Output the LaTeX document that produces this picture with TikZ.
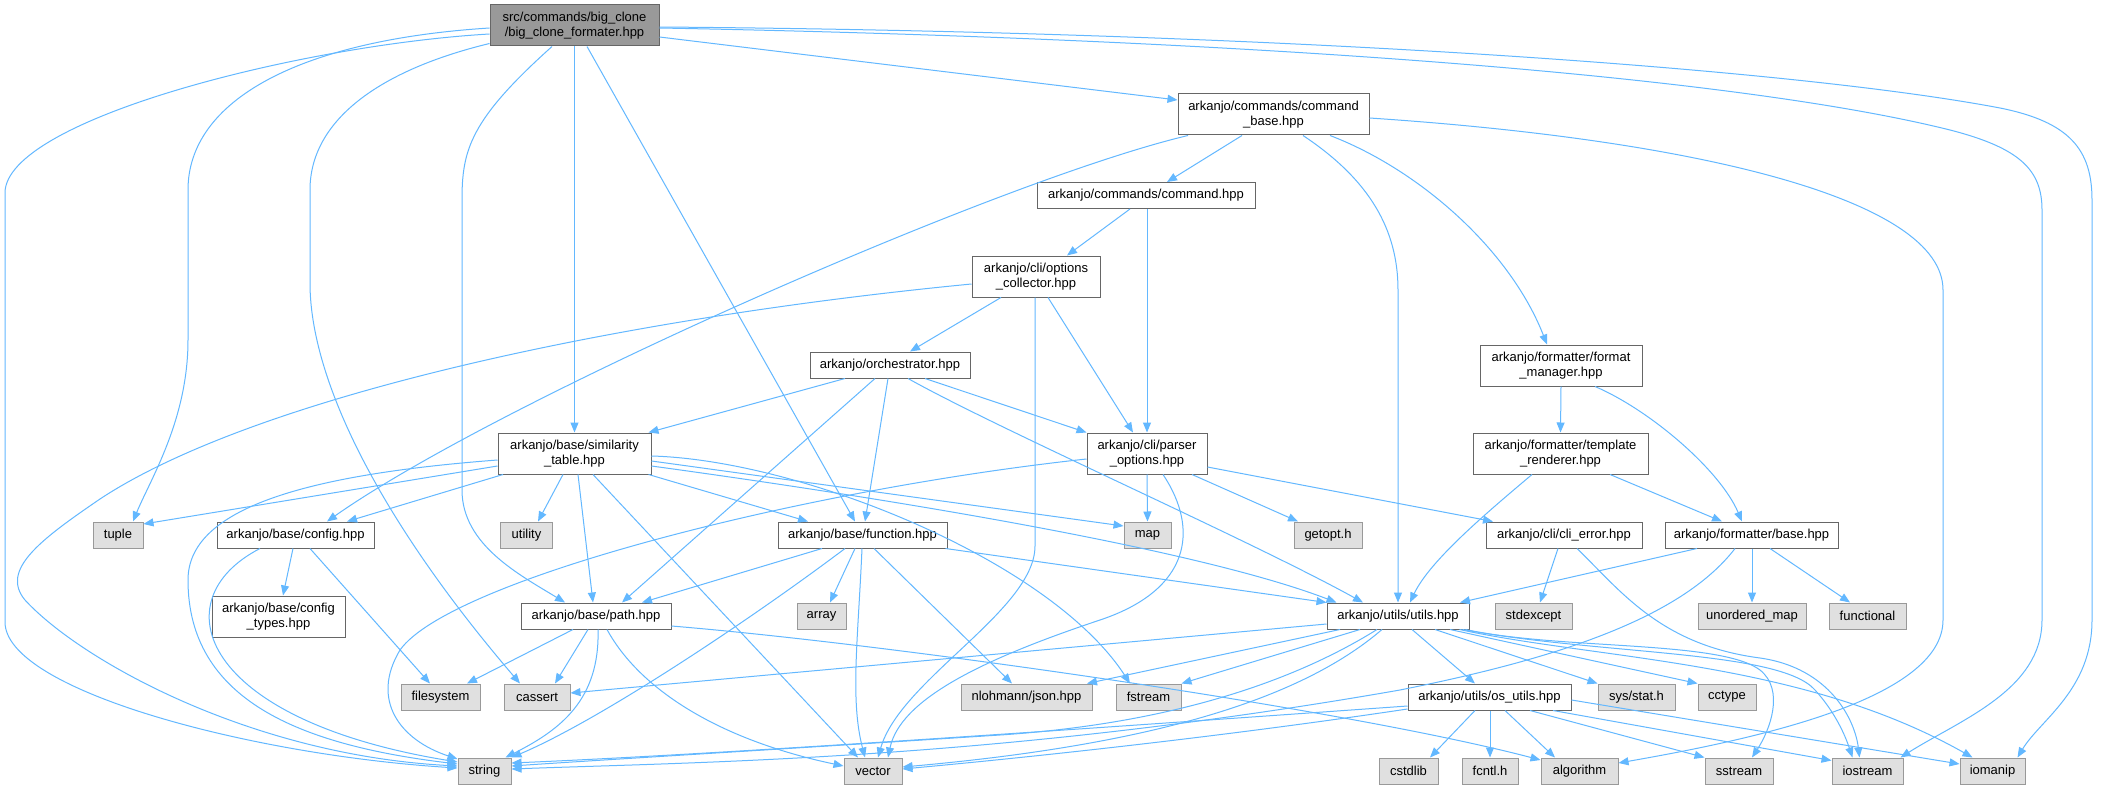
\documentclass[tikz,border=0pt]{standalone}
\usepackage{fontspec}
\setmainfont{Liberation Sans}
\usetikzlibrary{arrows.meta}
\definecolor{edgecol}{HTML}{63B8FF}
\definecolor{docborder}{HTML}{666666}
\definecolor{extborder}{HTML}{999999}
\definecolor{extfill}{HTML}{E0E0E0}
\definecolor{rootfill}{HTML}{999999}
\tikzset{
  box/.style={rectangle, inner sep=0pt, line width=1pt, minimum height=26pt, align=center, font=\fontsize{13}{15}\selectfont},
  two/.style={minimum height=41pt},
  doc/.style={box, draw=docborder, fill=white},
  ext/.style={box, draw=extborder, fill=extfill},
  rootn/.style={box, draw=docborder, fill=rootfill},
  dep/.style={draw=edgecol, line width=1pt, -{Triangle[length=10pt,width=8pt]}}
}
\begin{document}
\begin{tikzpicture}[x=1pt,y=-1pt]
\fill[white] (0,0) rectangle (2105,789);
\useasboundingbox (0,0) rectangle (2105,789);
% nodes
\node[rootn,two,minimum width=169pt] (root) at (574.5,25.5) {src/commands/big\_clone\\/big\_clone\_formater.hpp};
\node[doc,two,minimum width=191pt] (cbase) at (1273.5,114.5) {arkanjo/commands/command\\\_base.hpp};
\node[doc,minimum width=218pt] (cmd) at (1146,195.5) {arkanjo/commands/command.hpp};
\node[doc,two,minimum width=128pt] (optc) at (1036,276.5) {arkanjo/cli/options\\\_collector.hpp};
\node[doc,minimum width=160pt] (orch) at (890,365) {arkanjo/orchestrator.hpp};
\node[doc,two,minimum width=162pt] (fmgr) at (1561,365.5) {arkanjo/formatter/format\\\_manager.hpp};
\node[doc,two,minimum width=153pt] (sim) at (574.5,453.5) {arkanjo/base/similarity\\\_table.hpp};
\node[doc,two,minimum width=120pt] (popt) at (1147,453.5) {arkanjo/cli/parser\\\_options.hpp};
\node[doc,two,minimum width=175pt] (trend) at (1560.5,453.5) {arkanjo/formatter/template\\\_renderer.hpp};
\node[ext,minimum width=50pt] (tuple) at (118,535) {tuple};
\node[doc,minimum width=157pt] (config) at (295.5,535) {arkanjo/base/config.hpp};
\node[ext,minimum width=52pt] (utility) at (526.5,535) {utility};
\node[doc,minimum width=169pt] (funcn) at (862.5,535) {arkanjo/base/function.hpp};
\node[ext,minimum width=47pt] (mapn) at (1147.5,535) {map};
\node[ext,minimum width=68pt] (getopt) at (1328,535) {getopt.h};
\node[doc,minimum width=156pt] (clierr) at (1564,535) {arkanjo/cli/cli\_error.hpp};
\node[doc,minimum width=173pt] (fbase) at (1751.5,535) {arkanjo/formatter/base.hpp};
\node[doc,two,minimum width=133pt] (ctypes) at (278.5,616.5) {arkanjo/base/config\\\_types.hpp};
\node[doc,minimum width=150pt] (pathn) at (596,616) {arkanjo/base/path.hpp};
\node[ext,minimum width=49pt] (arrayn) at (821.5,616) {array};
\node[doc,minimum width=142pt] (utils) at (1398,616) {arkanjo/utils/utils.hpp};
\node[ext,minimum width=77pt] (stdexc) at (1533.5,616) {stdexcept};
\node[ext,minimum width=108pt] (umap) at (1752,616) {unordered\_map};
\node[ext,minimum width=77pt] (functional) at (1867.5,616) {functional};
\node[ext,minimum width=79pt] (fs) at (440.5,697) {filesystem};
\node[ext,minimum width=66pt] (cassert) at (537,697) {cassert};
\node[ext,minimum width=131pt] (json) at (1026.5,697) {nlohmann/json.hpp};
\node[ext,minimum width=65pt] (fstream) at (1148.5,697) {fstream};
\node[doc,minimum width=163pt] (osu) at (1489.5,697) {arkanjo/utils/os\_utils.hpp};
\node[ext,minimum width=77pt] (sysstat) at (1636.5,697) {sys/stat.h};
\node[ext,minimum width=58pt] (cctype) at (1727,697) {cctype};
\node[ext,minimum width=53pt] (strn) at (484.5,771) {string};
\node[ext,minimum width=58pt] (vector) at (873,771) {vector};
\node[ext,minimum width=59pt] (cstdlib) at (1408.5,771) {cstdlib};
\node[ext,minimum width=56pt] (fcntl) at (1490,771) {fcntl.h};
\node[ext,minimum width=77pt] (algo) at (1579.5,771) {algorithm};
\node[ext,minimum width=68pt] (sstream) at (1739,771) {sstream};
\node[ext,minimum width=71pt] (iostream) at (1867.5,771) {iostream};
\node[ext,minimum width=65pt] (iomanip) at (1992.5,771) {iomanip};
% root
\draw[dep] ([yshift=-8.5pt]root.west) .. controls (300,45) and (5,120) .. (5,193) -- (5,622) .. controls (5,690) and (250,755) .. ([yshift=3pt]strn.west);
\draw[dep] ([yshift=-2.5pt]root.west) .. controls (300,40) and (188,100) .. (188,190) -- (188,340) .. controls (188,420) and (150,480) .. ([xshift=15pt]tuple.north);
\draw[dep] ([yshift=3pt]root.south west) .. controls (380,70) and (310,120) .. (310,190) -- (310,283) .. controls (310,380) and (380,520) .. ([xshift=-17pt]cassert.north);
\draw[dep] ([xshift=-22.5pt]root.south) .. controls (470,120) and (462,150) .. (462,200) -- (462,490) .. controls (462,545) and (520,575) .. ([xshift=-31pt]pathn.north);
\draw[dep] (root.south) -- (sim.north);
\draw[dep] ([xshift=12.5pt]root.south) -- ([xshift=-7.5pt]funcn.north);
\draw[dep] ([yshift=-11.5pt]root.east) -- ([yshift=14.5pt]cbase.west);
\draw[dep] ([yshift=-1.5pt]root.east) .. controls (1300,32) and (1800,70) .. (2000,108) .. controls (2070,122) and (2092,150) .. (2092,200) -- (2092,620) .. controls (2092,690) and (2040,720) .. ([xshift=25pt]iomanip.north);
\draw[dep] ([yshift=-2.5pt]root.east) .. controls (1300,40) and (1750,80) .. (1950,130) .. controls (2020,148) and (2042,170) .. (2042,210) -- (2042,620) .. controls (2042,690) and (1960,720) .. ([xshift=-3pt]iostream.north east);
% command_base
\draw[dep] ([xshift=-85.5pt]cbase.south) .. controls (1000,180) and (500,400) .. ([xshift=31.5pt]config.north);
\draw[dep] ([xshift=-31.5pt]cbase.south) -- ([xshift=21pt]cmd.north);
\draw[dep] ([xshift=29.5pt]cbase.south) .. controls (1370,180) and (1398,230) .. (1398,290) -- (utils.north);
\draw[dep] ([xshift=56.5pt]cbase.south) .. controls (1420,170) and (1510,250) .. ([xshift=-14pt]fmgr.north);
\draw[dep] ([yshift=-3.5pt]cbase.east) .. controls (1700,140) and (1943,200) .. (1943,290) -- (1943,620) .. controls (1943,700) and (1750,740) .. ([yshift=8pt]algo.east);
% command
\draw[dep] ([xshift=-16pt]cmd.south) -- ([xshift=31pt]optc.north);
\draw[dep] ([xshift=1pt]cmd.south) -- (popt.north);
% options_collector
\draw[dep] ([xshift=-35pt]optc.south) -- ([xshift=20pt]orch.north);
\draw[dep] ([yshift=-7.5pt]optc.west) .. controls (600,320) and (250,400) .. (100,499) .. controls (40,540) and (0,570) .. (25,600) .. controls (80,660) and (250,755) .. ([yshift=5pt]strn.west);
\draw[dep] ([xshift=12pt]optc.south) -- ([xshift=-14pt]popt.north);
\draw[dep] ([xshift=-1pt]optc.south) -- (1035,546) .. controls (1035,610) and (900,680) .. ([xshift=5pt]vector.north);
% orchestrator
\draw[dep] ([xshift=-45pt]orch.south) -- ([xshift=-3pt]sim.north east);
\draw[dep] ([xshift=-15pt]orch.south) -- ([xshift=26pt]pathn.north);
\draw[dep] ([xshift=-2pt]orch.south) -- ([xshift=2.5pt]funcn.north);
\draw[dep] ([xshift=18pt]orch.south) .. controls (1000,430) and (1250,540) .. ([xshift=-35pt]utils.north);
\draw[dep] ([xshift=35pt]orch.south) -- (popt.north west);
% format_manager
\draw[dep] (fmgr.south) -- (trend.north);
\draw[dep] ([xshift=34pt]fmgr.south) .. controls (1650,410) and (1720,470) .. ([xshift=-9.5pt]fbase.north);
% similarity_table
\draw[dep] ([yshift=-12.5pt]sim.west) -- ([yshift=11pt]tuple.east);
\draw[dep] ([yshift=-6.5pt]sim.west) .. controls (300,475) and (188,510) .. (188,580) .. controls (188,700) and (300,745) .. ([yshift=7pt]strn.west);
\draw[dep] ([xshift=-71.5pt]sim.south) -- ([xshift=51.5pt]config.north);
\draw[dep] ([xshift=-11.5pt]sim.south) -- ([xshift=11.5pt]utility.north);
\draw[dep] ([xshift=3.5pt]sim.south) -- ([xshift=-3pt]pathn.north);
\draw[dep] ([xshift=18.5pt]sim.south) -- ([xshift=-15pt]vector.north);
\draw[dep] ([xshift=-3pt]sim.south east) -- ([xshift=-54.5pt]funcn.north);
\draw[dep] ([yshift=-2.5pt]sim.east) .. controls (800,460) and (1050,560) .. ([xshift=-18.5pt]fstream.north);
\draw[dep] ([yshift=-7.5pt]sim.east) -- ([yshift=9pt]mapn.west);
\draw[dep] ([yshift=-12.5pt]sim.east) .. controls (900,500) and (1200,550) .. ([xshift=10pt]utils.north west);
% parser_options
\draw[dep] ([yshift=-5.5pt]popt.west) .. controls (800,490) and (450,580) .. (400,650) .. controls (370,700) and (400,740) .. ([yshift=12pt]strn.west);
\draw[dep] (popt.south) -- (mapn.north);
\draw[dep] ([xshift=45pt]popt.south) -- ([xshift=-30pt]getopt.north);
\draw[dep] ([yshift=-13.5pt]popt.east) -- ([xshift=-71pt]clierr.north);
\draw[dep] ([xshift=16pt]popt.south) .. controls (1200,530) and (1190,590) .. (1100,620) .. controls (980,660) and (900,700) .. ([xshift=15pt]vector.north);
% template_renderer
\draw[dep] ([xshift=-28.5pt]trend.south) .. controls (1490,510) and (1430,560) .. ([xshift=12pt]utils.north);
\draw[dep] ([xshift=49.5pt]trend.south) -- ([xshift=-29.5pt]fbase.north);
% cli_error
\draw[dep] ([xshift=-6pt]clierr.south) -- ([xshift=6.5pt]stdexc.north);
\draw[dep] ([xshift=13pt]clierr.south) .. controls (1620,590) and (1660,645) .. (1760,658) .. controls (1830,668) and (1855,720) .. ([xshift=-8pt]iostream.north);
% formatter/base
\draw[dep] ([xshift=-54.5pt]fbase.south) -- ([xshift=62pt]utils.north);
\draw[dep] ([xshift=-16.5pt]fbase.south) .. controls (1680,620) and (1550,660) .. (1400,690) .. controls (1000,760) and (700,762) .. ([yshift=2pt]strn.east);
\draw[dep] ([xshift=0.5pt]fbase.south) -- (umap.north);
\draw[dep] ([xshift=18.5pt]fbase.south) -- ([xshift=-17.5pt]functional.north);
% function
\draw[dep] ([xshift=-40.5pt]funcn.south) -- ([xshift=46pt]pathn.north);
\draw[dep] ([xshift=-17.5pt]funcn.south) .. controls (750,620) and (600,720) .. (strn.north east);
\draw[dep] ([xshift=-7.5pt]funcn.south) -- ([xshift=8.5pt]arrayn.north);
\draw[dep] ([xshift=-0.5pt]funcn.south) .. controls (858,640) and (850,700) .. ([xshift=-8pt]vector.north);
\draw[dep] ([xshift=11.5pt]funcn.south) -- ([xshift=-14.5pt]json.north);
\draw[dep] ([xshift=-2pt]funcn.south east) -- (utils.north west);
% path
\draw[dep] ([xshift=-23pt]pathn.south) -- ([xshift=26.5pt]fs.north);
\draw[dep] ([xshift=-8pt]pathn.south) -- ([xshift=18pt]cassert.north);
\draw[dep] ([xshift=2pt]pathn.south) .. controls (600,700) and (560,730) .. ([xshift=-6pt]strn.north east);
\draw[dep] ([xshift=11pt]pathn.south) .. controls (640,690) and (720,740) .. ([yshift=5pt]vector.west);
\draw[dep] ([yshift=-10pt]pathn.east) .. controls (900,645) and (1350,710) .. ([yshift=11pt]algo.west);
% config
\draw[dep] ([xshift=-2.5pt]config.south) -- ([xshift=4.5pt]ctypes.north);
\draw[dep] ([xshift=14.5pt]config.south) -- ([xshift=-10.5pt]fs.north);
\draw[dep] ([xshift=-35.5pt]config.south) .. controls (160,600) and (200,720) .. ([yshift=9pt]strn.west);
% utils
\draw[dep] ([yshift=-8pt]utils.west) -- ([yshift=4pt]cassert.east);
\draw[dep] ([xshift=-58pt]utils.south) -- ([xshift=60.5pt]json.north);
\draw[dep] ([xshift=-38pt]utils.south) -- (fstream.north east);
\draw[dep] ([xshift=-21pt]utils.south) .. controls (1280,690) and (1150,725) .. (1000,735) .. controls (800,748) and (600,760) .. ([yshift=5pt]strn.east);
\draw[dep] ([xshift=-16pt]utils.south) .. controls (1300,700) and (1150,745) .. ([yshift=4pt]vector.east);
\draw[dep] ([xshift=14pt]utils.south) -- ([xshift=-14.5pt]osu.north);
\draw[dep] ([xshift=37pt]utils.south) -- (sysstat.north west);
\draw[dep] ([xshift=52pt]utils.south) -- (cctype.north west);
\draw[dep] ([xshift=-4pt]utils.south east) .. controls (1560,650) and (1720,640) .. (1760,670) .. controls (1785,690) and (1770,730) .. ([xshift=13pt]sstream.north);
\draw[dep] ([xshift=-7pt]utils.south east) .. controls (1600,655) and (1780,650) .. (1815,690) .. controls (1835,712) and (1845,735) .. ([xshift=-15pt]iostream.north);
\draw[dep] ([xshift=-10pt]utils.south east) .. controls (1600,660) and (1800,660) .. ([xshift=-20pt]iomanip.north);
% os_utils
\draw[dep] ([yshift=-9pt]osu.west) .. controls (1000,735) and (700,755) .. ([yshift=8pt]strn.east);
\draw[dep] ([yshift=-12pt]osu.west) .. controls (1200,740) and (1000,760) .. ([yshift=2pt]vector.east);
\draw[dep] ([xshift=-14.5pt]osu.south) -- ([xshift=21.5pt]cstdlib.north);
\draw[dep] ([xshift=0.5pt]osu.south) -- (fcntl.north);
\draw[dep] ([xshift=15.5pt]osu.south) -- ([xshift=-24.5pt]algo.north);
\draw[dep] ([xshift=40.5pt]osu.south) -- (sstream.north west);
\draw[dep] ([xshift=63.5pt]osu.south) -- ([yshift=-3pt]iostream.north west);
\draw[dep] ([yshift=-3pt]osu.east) -- ([yshift=7pt]iomanip.west);
\end{tikzpicture}
\end{document}
